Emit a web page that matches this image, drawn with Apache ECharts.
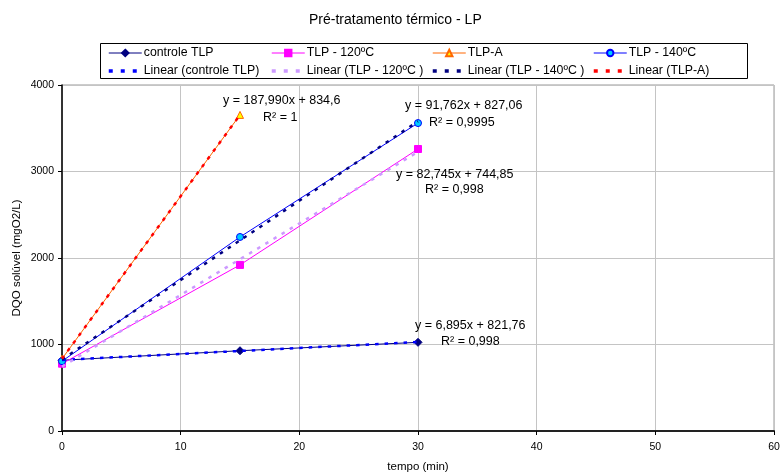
<!DOCTYPE html>
<html><head><meta charset="utf-8">
<script src="https://cdn.jsdelivr.net/npm/echarts@6/dist/echarts.min.js"></script>
<style>html,body{margin:0;padding:0;background:#fff}#c{width:781px;height:472px}</style>
</head><body><div id="c"></div>
<script>
// ---- data ----
const times = [0, 15, 30];
const timesA = [0, 15];
const controleTLP = [818, 928, 1025];
const tlp120 = [778, 1920, 3260];
const tlpA = [834.6, 3654.4];
const tlp140 = [807, 2243, 3560];
// trend line end points (from the shown equations)
const trendX = [0, 30];
const trendXA = [0, 15];
const trendControle = [821.76, 1028.61];
const trend120 = [744.85, 3227.2];
const trend140 = [827.06, 3579.9];
const trendA = [834.6, 3654.45];
// labels
const seriesNames = ['controle TLP', 'TLP - 120ºC', 'TLP-A', 'TLP - 140ºC'];
const trendNames = ['Linear (controle TLP)', 'Linear (TLP - 120ºC )', 'Linear (TLP - 140ºC )', 'Linear (TLP-A)'];
const eqA = ['y = 187,990x + 834,6', 'R² = 1'];
const eq140 = ['y = 91,762x + 827,06', 'R² = 0,9995'];
const eq120 = ['y = 82,745x + 744,85', 'R² = 0,998'];
const eqControle = ['y = 6,895x + 821,76', 'R² = 0,998'];

const FONT = 'Arial, "Liberation Sans", sans-serif';
const pairs = (xs, ys) => xs.map((x, i) => [x, ys[i]]);

const chart = echarts.init(document.getElementById('c'));

function dataSeries(name, xs, ys, color, symbol, fill, border) {
  return {
    name, type: 'line', data: pairs(xs, ys), z: 2,
    lineStyle: { color, width: 1 },
    symbol, symbolSize: symbol === 'diamond' ? 8 : 7,
    itemStyle: { color: fill, borderColor: border, borderWidth: 1 },
    color: color,
    animation: false
  };
}
function trendSeries(name, xs, ys, color) {
  return {
    name, type: 'line', data: pairs(xs, ys), z: 3,
    showSymbol: false, symbol: 'none',
    lineStyle: { color, width: 2.5, type: [3.5, 6], cap: 'butt' },
    itemStyle: { color },
    color: color,
    animation: false
  };
}
function legendCol(left, sName, tName) {
  return {
    orient: 'vertical', left, top: 46, itemGap: 4, padding: 0,
    itemWidth: 33, itemHeight: 8,
    textStyle: { fontFamily: FONT, fontSize: 12.3, color: '#000', lineHeight: 14, padding: [0, 0, 0, -3] },
    data: [
      { name: sName, lineStyle: { width: 1 } },
      { name: tName, itemStyle: { opacity: 0, borderWidth: 0 }, lineStyle: { width: 3.5, type: [4, 8] } }
    ],
    selectedMode: false
  };
}
function txt(x, y, text, size) {
  return { type: 'text', x, y, z: 10,
    style: { text, fontFamily: FONT, fontSize: size || 12.5, fill: '#000', textVerticalAlign: 'middle' } };
}

chart.setOption({
  animation: false,
  backgroundColor: '#fff',
  title: {
    text: 'Pré-tratamento térmico - LP', left: 309, top: 13, padding: 0,
    textStyle: { fontFamily: FONT, fontSize: 14, fontWeight: 'normal', color: '#000' }
  },
  legend: [
    legendCol(107, seriesNames[0], trendNames[0]),
    legendCol(270, seriesNames[1], trendNames[1]),
    legendCol(431, seriesNames[2], trendNames[2]),
    legendCol(592, seriesNames[3], trendNames[3])
  ],
  grid: { left: 62, right: 7, top: 85, bottom: 41, show: true, borderColor: '#999', borderWidth: 1,
    containLabel: false, outerBoundsMode: 'none' },
  xAxis: {
    type: 'value', min: 0, max: 60, interval: 10,
    name: 'tempo (min)', nameLocation: 'middle', nameGap: 30,
    nameTextStyle: { fontFamily: FONT, fontSize: 11.5, color: '#000' },
    axisLine: { show: true, onZero: false, lineStyle: { color: '#222', width: 2 } },
    axisTick: { show: true, length: 4, lineStyle: { color: '#000' } },
    axisLabel: { fontFamily: FONT, fontSize: 10.5, color: '#000', margin: 11, formatter: v => String(v) },
    splitLine: { show: true, lineStyle: { color: '#c4c4c4', width: 1 } }
  },
  yAxis: {
    type: 'value', min: 0, max: 4000, interval: 1000,
    name: 'DQO solúvel (mgO2/L)', nameLocation: 'middle', nameGap: 39, nameMoveOverlap: false,
    nameTextStyle: { fontFamily: FONT, fontSize: 11.5, color: '#000' },
    axisLine: { show: true, onZero: false, lineStyle: { color: '#000', width: 1.5 } },
    axisTick: { show: true, length: 4, lineStyle: { color: '#000' } },
    axisLabel: { fontFamily: FONT, fontSize: 10.5, color: '#000', margin: 8, formatter: v => String(v) },
    splitLine: { show: true, lineStyle: { color: '#c4c4c4', width: 1 } }
  },
  series: [
    dataSeries(seriesNames[0], times, controleTLP, '#000080', 'diamond', '#000080', '#000080'),
    dataSeries(seriesNames[1], times, tlp120, '#FF00FF', 'rect', '#FF00FF', '#FF00FF'),
    dataSeries(seriesNames[2], timesA, tlpA, '#FF6600', 'triangle', '#FFFF00', '#FF6600'),
    dataSeries(seriesNames[3], times, tlp140, '#0000FF', 'circle', '#00CCFF', '#0000FF'),
    trendSeries(trendNames[0], trendX, trendControle, '#0000FF'),
    trendSeries(trendNames[1], trendX, trend120, '#CC99FF'),
    trendSeries(trendNames[2], trendX, trend140, '#000080'),
    trendSeries(trendNames[3], trendXA, trendA, '#FF0000')
  ],
  graphic: [
    { type: 'rect', shape: { x: 100.5, y: 43.5, width: 647, height: 35 }, z: -1,
      style: { fill: 'none', stroke: '#000', lineWidth: 1 } },
    txt(223, 101, eqA[0]), txt(263, 118, eqA[1]),
    txt(405, 106, eq140[0]), txt(429, 123, eq140[1]),
    txt(396, 175, eq120[0]), txt(425, 190, eq120[1]),
    txt(415, 326, eqControle[0]), txt(441, 342, eqControle[1])
  ]
});
</script></body></html>
